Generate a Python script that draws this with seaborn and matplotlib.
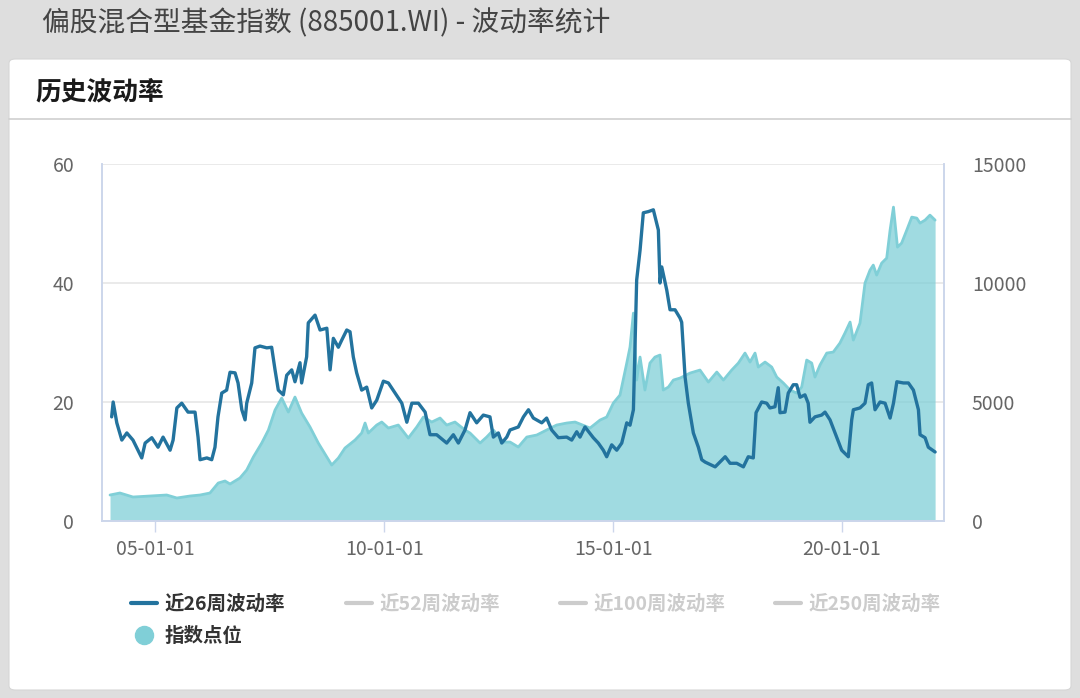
import matplotlib
matplotlib.use("Agg")
import matplotlib.pyplot as plt
import matplotlib.dates as mdates
from matplotlib.lines import Line2D
from matplotlib.patches import FancyBboxPatch
import seaborn as sns
import pandas as pd

# 近26周波动率 (left axis)
vol_dates = [
    "2004-01-20", "2004-02-01", "2004-03-01", "2004-04-10", "2004-05-20", "2004-07-08",
    "2004-08-07", "2004-09-16", "2004-10-13", "2004-12-05", "2005-01-24", "2005-03-05",
    "2005-04-30", "2005-05-24", "2005-06-23", "2005-08-01", "2005-09-20", "2005-11-15",
    "2005-12-09", "2005-12-25", "2006-02-17", "2006-03-28", "2006-04-23", "2006-05-17",
    "2006-06-16", "2006-07-25", "2006-08-21", "2006-09-30", "2006-10-24", "2006-11-23",
    "2006-12-19", "2007-01-01", "2007-02-10", "2007-03-08", "2007-04-17", "2007-06-10",
    "2007-07-19", "2007-08-15", "2007-09-10", "2007-10-20", "2007-11-16", "2007-12-26",
    "2008-01-21", "2008-03-01", "2008-03-14", "2008-04-23", "2008-05-06", "2008-06-29",
    "2008-08-08", "2008-10-01", "2008-10-27", "2008-11-22", "2009-01-01", "2009-01-28",
    "2009-03-09", "2009-04-04", "2009-04-30", "2009-05-27", "2009-07-06", "2009-08-15",
    "2009-09-24", "2009-11-03", "2009-12-26", "2010-02-04", "2010-03-29", "2010-05-22",
    "2010-07-01", "2010-08-10", "2010-10-01", "2010-11-24", "2011-01-02", "2011-02-24",
    "2011-05-15", "2011-07-07", "2011-08-16", "2011-10-08", "2011-11-17", "2012-01-09",
    "2012-03-02", "2012-04-24", "2012-05-21", "2012-06-30", "2012-07-27", "2012-09-05",
    "2012-10-01", "2012-12-06", "2013-01-16", "2013-02-25", "2013-04-05", "2013-06-11",
    "2013-07-20", "2013-08-29", "2013-10-21", "2013-12-27", "2014-02-05", "2014-03-17",
    "2014-04-12", "2014-05-22", "2014-07-27", "2014-09-05", "2014-10-15", "2014-11-11",
    "2014-12-21", "2015-01-30", "2015-03-11", "2015-04-20", "2015-05-16", "2015-06-12",
    "2015-07-08", "2015-08-04", "2015-08-30", "2015-10-09", "2015-11-18", "2015-12-28",
    "2016-01-10", "2016-01-24", "2016-03-04", "2016-03-30", "2016-05-09", "2016-06-18",
    "2016-07-01", "2016-07-28", "2016-08-23", "2016-10-02", "2016-11-11", "2016-12-08",
    "2017-01-04", "2017-03-25", "2017-06-13", "2017-07-22", "2017-09-13", "2017-11-05",
    "2017-12-14", "2018-01-23", "2018-02-14", "2018-03-31", "2018-05-10", "2018-06-05",
    "2018-07-15", "2018-08-10", "2018-08-24", "2018-10-03", "2018-10-29", "2018-12-08",
    "2019-01-04", "2019-01-31", "2019-03-11", "2019-04-06", "2019-04-20", "2019-05-30",
    "2019-07-22", "2019-08-18", "2019-09-27", "2019-11-06", "2019-12-29", "2020-02-20",
    "2020-03-18", "2020-03-31", "2020-05-23", "2020-07-02", "2020-07-28", "2020-08-24",
    "2020-09-20", "2020-10-30", "2020-12-09", "2021-01-18", "2021-02-14", "2021-03-13",
    "2021-05-04", "2021-06-13", "2021-07-23", "2021-09-01", "2021-09-14", "2021-10-24",
    "2021-11-19", "2022-01-12",
]
vol26 = [
    17.5, 20.0, 16.5, 13.6, 14.8, 13.6, 12.3, 10.6, 13.1, 14.0, 12.4, 14.1,
    11.9, 13.6, 19.0, 19.8, 18.3, 18.3, 14.1, 10.3, 10.6, 10.3, 12.4, 17.5,
    21.5, 22.0, 25.0, 24.9, 23.2, 18.7, 17.0, 19.8, 23.2, 29.1, 29.4, 29.1,
    29.2, 25.4, 22.0, 21.2, 24.5, 25.4, 23.4, 26.6, 23.2, 27.6, 33.3, 34.6,
    32.1, 32.4, 25.4, 30.7, 29.2, 30.4, 32.1, 31.8, 27.6, 24.9, 22.0, 22.5,
    19.0, 20.3, 23.5, 23.2, 21.5, 19.8, 16.6, 19.8, 19.8, 18.3, 14.5, 14.5,
    13.1, 14.5, 13.1, 15.3, 18.2, 16.5, 17.8, 17.5, 14.1, 14.8, 13.1, 14.1,
    15.3, 15.8, 17.5, 18.7, 17.3, 16.5, 17.3, 15.3, 14.0, 14.1, 13.6, 15.0,
    14.1, 15.8, 14.0, 13.1, 11.9, 10.8, 12.8, 11.9, 13.1, 16.5, 16.1, 18.7,
    40.5, 45.5, 51.8, 52.0, 52.3, 48.9, 40.0, 42.7, 38.8, 35.5, 35.5, 34.1,
    33.4, 24.2, 19.8, 14.8, 12.4, 10.3, 9.9, 9.1, 10.8, 9.7, 9.7, 9.1,
    10.8, 10.6, 18.2, 20.0, 19.8, 19.0, 19.2, 22.4, 18.2, 18.3, 21.5, 22.9,
    22.9, 20.8, 21.2, 19.8, 16.6, 17.5, 17.8, 18.3, 17.0, 14.8, 11.9, 10.8,
    17.0, 18.7, 19.0, 19.8, 22.9, 23.2, 18.7, 20.0, 19.8, 17.3, 19.8, 23.4,
    23.2, 23.2, 22.0, 18.7, 14.5, 14.0, 12.4, 11.6,
]

# 指数点位 (right axis)
idx_dates = [
    "2004-01-07", "2004-03-26", "2004-07-08", "2004-11-21", "2005-04-03", "2005-06-23",
    "2005-10-06", "2005-12-25", "2006-03-14", "2006-05-19", "2006-07-12", "2006-08-21",
    "2006-11-08", "2007-01-01", "2007-02-23", "2007-05-01", "2007-06-23", "2007-08-15",
    "2007-10-07", "2007-11-29", "2008-01-21", "2008-03-14", "2008-05-20", "2008-07-25",
    "2008-10-01", "2008-11-09", "2009-01-01", "2009-02-23", "2009-05-14", "2009-07-06",
    "2009-08-02", "2009-08-28", "2009-11-03", "2009-12-13", "2010-02-04", "2010-04-24",
    "2010-07-13", "2010-09-18", "2010-11-10", "2011-01-16", "2011-03-23", "2011-05-15",
    "2011-07-20", "2011-10-08", "2011-11-17", "2012-02-05", "2012-03-29", "2012-05-21",
    "2012-08-09", "2012-10-01", "2012-12-06", "2013-02-12", "2013-05-02", "2013-07-20",
    "2013-10-08", "2013-12-27", "2014-03-04", "2014-07-01", "2014-09-19", "2014-11-11",
    "2015-01-03", "2015-02-25", "2015-04-20", "2015-05-16", "2015-06-12", "2015-07-08",
    "2015-08-04", "2015-09-12", "2015-10-22", "2015-12-01", "2016-01-10", "2016-02-05",
    "2016-03-17", "2016-04-26", "2016-06-18", "2016-09-06", "2016-11-24", "2017-01-30",
    "2017-04-07", "2017-05-30", "2017-08-04", "2017-09-26", "2017-11-18", "2017-12-28",
    "2018-02-06", "2018-03-04", "2018-04-27", "2018-06-19", "2018-07-29", "2018-09-20",
    "2018-11-12", "2019-01-04", "2019-02-13", "2019-03-25", "2019-05-04", "2019-05-30",
    "2019-07-09", "2019-09-01", "2019-10-23", "2019-12-15", "2020-01-24", "2020-03-05",
    "2020-03-31", "2020-05-23", "2020-07-02", "2020-08-11", "2020-09-06", "2020-10-03",
    "2020-11-12", "2020-12-22", "2021-01-18", "2021-02-14", "2021-03-18", "2021-04-20",
    "2021-05-31", "2021-07-10", "2021-08-19", "2021-09-14", "2021-10-24", "2021-12-02",
    "2022-01-12",
]
idx_values = [
    1092, 1176, 1008, 1050, 1092, 966, 1050, 1092, 1176, 1596, 1680, 1554,
    1806, 2142, 2688, 3276, 3822, 4662, 5166, 4578, 5208, 4536, 3948, 3276,
    2688, 2352, 2646, 3066, 3402, 3696, 4116, 3696, 4032, 4158, 3906, 4032,
    3486, 3948, 4368, 4158, 4326, 4032, 4158, 3822, 3696, 3276, 3528, 3822,
    3318, 3318, 3108, 3528, 3612, 3822, 4032, 4116, 4158, 3906, 4242, 4368,
    4956, 5292, 6636, 7308, 8736, 5922, 6888, 5502, 6636, 6888, 6972, 5502,
    5628, 5922, 6006, 6216, 6342, 5838, 6258, 5922, 6342, 6636, 7056, 6678,
    7056, 6468, 6678, 6468, 6048, 5796, 5502, 5376, 5628, 6762, 6636, 6048,
    6552, 7056, 7098, 7476, 7896, 8358, 7602, 8316, 9996, 10542, 10752, 10332,
    10836, 11046, 12222, 13188, 11508, 11676, 12222, 12768, 12726, 12516, 12642, 12852,
    12642,
]

legend_labels = ["近26周波动率", "近52周波动率", "近100周波动率", "近250周波动率"]
area_label = "指数点位"
x_ticks = ["2005-01-01", "2010-01-01", "2015-01-01", "2020-01-01"]
left_ticks = [0, 20, 40, 60]
right_ticks = [0, 5000, 10000, 15000]

vol_df = pd.DataFrame({"date": pd.to_datetime(vol_dates), "vol": vol26})
idx_df = pd.DataFrame({"date": pd.to_datetime(idx_dates), "index": idx_values})

sns.set_theme(style="white")
plt.rcParams["font.family"] = ["Noto Sans CJK SC", "DejaVu Sans"]

W, H = 1080, 698
fig = plt.figure(figsize=(W / 100, H / 100), dpi=100)
fig.patch.set_facecolor("#dedede")


def fx(px):
    return px / W


def fy(py):
    return 1 - py / H


# white card behind everything
card = FancyBboxPatch((fx(9), fy(690)), fx(1071) - fx(9), fy(59) - fy(690),
                      boxstyle="round,pad=0,rounding_size=0.006",
                      transform=fig.transFigure, facecolor="white",
                      edgecolor="#d6d6d6", linewidth=0.8, zorder=-5)
fig.patches.append(card)
fig.add_artist(Line2D([fx(9), fx(1071)], [fy(119), fy(119)], color="#cfcfcf",
                      linewidth=1.2, transform=fig.transFigure, zorder=-4))

fig.text(fx(42), fy(23), "偏股混合型基金指数 (885001.WI) - 波动率统计",
         fontsize=20, color="#444444", va="center", ha="left")
fig.text(fx(35), fy(92), "历史波动率", fontsize=18.5, fontweight="bold",
         color="#1a1a1a", va="center", ha="left")

ax = fig.add_axes([fx(102), fy(521), fx(944) - fx(102), fy(164) - fy(521)])
ax2 = ax.twinx()
ax.set_zorder(ax2.get_zorder() + 1)
ax.patch.set_visible(False)
ax2.patch.set_visible(False)

area_color = "#80cfd7"
line_color = "#23739e"

ax2.fill_between(idx_df["date"], idx_df["index"], 0, color=area_color,
                 alpha=0.75, linewidth=0, zorder=2)
sns.lineplot(data=idx_df, x="date", y="index", ax=ax2, color=area_color,
             linewidth=2.0, zorder=3)
sns.lineplot(data=vol_df, x="date", y="vol", ax=ax, color=line_color,
             linewidth=2.4)

ax.set_ylim(0, 60)
ax2.set_ylim(0, 15000)
ax.set_xlim(pd.Timestamp("2003-11-04"), pd.Timestamp("2022-03-24"))
ax.set_yticks(left_ticks)
ax2.set_yticks(right_ticks)
ax.set_xticks(pd.to_datetime(x_ticks))
ax.xaxis.set_major_formatter(mdates.DateFormatter("%y-%m-%d"))

ax2.grid(True, axis="y", color="#e6e6e6", linewidth=1.2)
ax2.set_axisbelow(True)
ax.grid(False)

for a in (ax, ax2):
    a.set_xlabel("")
    a.set_ylabel("")
    for s in a.spines.values():
        s.set_color("#ccd6eb")
        s.set_linewidth(1.2)
    a.spines["top"].set_visible(False)

ax.tick_params(axis="y", length=0, pad=20, labelsize=14, labelcolor="#666666")
ax2.tick_params(axis="y", length=0, pad=20, labelsize=14, labelcolor="#666666")
ax.tick_params(axis="x", bottom=True, length=8, width=1, color="#ccd6eb",
               pad=5, labelsize=14, labelcolor="#666666")

# legend: one entry per slot, like the reference layout
legend_items = [
    (Line2D([], [], color=line_color, linewidth=3), legend_labels[0], "#333333", 131, 604),
    (Line2D([], [], color="#cccccc", linewidth=3), legend_labels[1], "#cccccc", 346, 604),
    (Line2D([], [], color="#cccccc", linewidth=3), legend_labels[2], "#cccccc", 560, 604),
    (Line2D([], [], color="#cccccc", linewidth=3), legend_labels[3], "#cccccc", 775, 604),
    (Line2D([], [], color=area_color, marker="o", linestyle="", markersize=13),
     area_label, "#333333", 131, 636),
]
for handle, label, tcolor, lx, ly in legend_items:
    leg = fig.legend(handles=[handle], labels=[label], loc="center left",
                     bbox_to_anchor=(fx(lx), fy(ly)), frameon=False,
                     borderpad=0, borderaxespad=0, handlelength=1.35,
                     handletextpad=0.4,
                     prop={"size": 14, "weight": "bold"})
    for t in leg.get_texts():
        t.set_color(tcolor)

fig.savefig("out.png", dpi=100, facecolor=fig.get_facecolor())
